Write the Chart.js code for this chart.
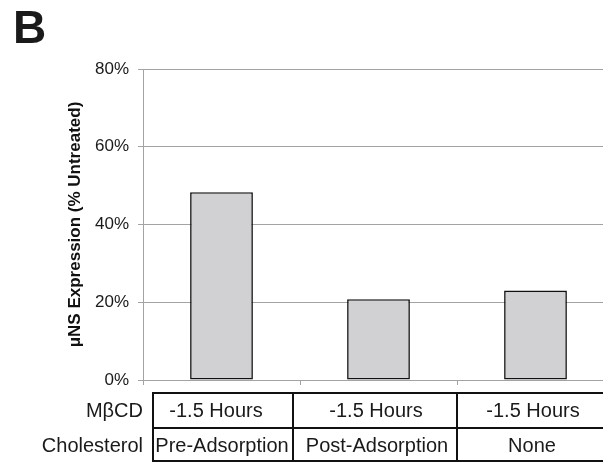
<!DOCTYPE html>
<html>
<head>
<meta charset="utf-8">
<script src="https://cdn.jsdelivr.net/npm/chart.js@4/dist/chart.umd.min.js"></script>
<style>
  html, body { margin: 0; padding: 0; width: 603px; height: 464px; overflow: hidden; background: #fff; }
  body { position: relative; font-family: "Liberation Sans", Arial, sans-serif; color: #111; }
  #wrap { position: absolute; left: 0; top: 0; width: 620px; height: 464px; }
  #panel { position: absolute; left: 13px; top: 1px; font-size: 46px; font-weight: bold; line-height: 52px; color: #1a1a1a; }
  .rowlab { position: absolute; right: 460px; font-size: 20px; line-height: 24px; white-space: nowrap; color: #1a1a1a; }
  .cell { position: absolute; width: 200px; font-size: 20px; line-height: 24px; text-align: center; white-space: nowrap; color: #1a1a1a; }
  .hl { position: absolute; height: 2px; background: #111; }
  .vl { position: absolute; width: 2px; background: #111; }
</style>
</head>
<body>
<div id="wrap"><canvas id="c" width="620" height="464"></canvas></div>
<div id="panel">B</div>
<div class="rowlab" style="top:398px">MβCD</div>
<div class="rowlab" style="top:433px">Cholesterol</div>
<div id="tbl"></div>
<script>
// Treatment groups and measured expression (% of untreated)
const categories = ["Pre-Adsorption", "Post-Adsorption", "None"];
const mbcdRow = ["-1.5 Hours", "-1.5 Hours", "-1.5 Hours"];
const cholesterolRow = ["Pre-Adsorption", "Post-Adsorption", "None"];
const expression = [48.3, 20.8, 23.0];
const yTicks = [0, 20, 40, 60, 80];

// Condition table under the bars: ruled grid plus centred cell text
const tbl = document.getElementById('tbl');
function add(cls, style, text) {
  const d = document.createElement('div');
  d.className = cls;
  Object.assign(d.style, style);
  if (text) d.textContent = text;
  tbl.appendChild(d);
}
[392, 427, 460].forEach(y => add('hl', { left: '152px', top: y + 'px', width: '460px' }));
[152, 292, 456].forEach(x => add('vl', { left: x + 'px', top: '392px', height: '70px' }));
const rowTops = [398, 433];
const centers = [[216, 376, 533], [222, 377, 532]];
[mbcdRow, cholesterolRow].forEach((row, ri) => {
  row.forEach((txt, i) => add('cell', { left: (centers[ri][i] - 100) + 'px', top: rowTops[ri] + 'px' }, txt));
});

const gridGray = '#a3a3a3';
new Chart(document.getElementById('c'), {
  type: 'bar',
  data: {
    labels: categories,
    datasets: [{
      data: expression,
      backgroundColor: '#d1d1d3',
      borderColor: '#111',
      borderWidth: 1.6,
      borderSkipped: false,
      barPercentage: 0.4,
      categoryPercentage: 1.0
    }]
  },
  options: {
    responsive: false,
    animation: false,
    layout: { padding: { top: 69, right: 6, left: 0, bottom: 0 } },
    plugins: { legend: { display: false }, tooltip: { enabled: false } },
    scales: {
      x: {
        offset: true,
        grid: { offset: true, drawOnChartArea: false, drawTicks: true, tickLength: 5, color: gridGray, lineWidth: 1 },
        border: { color: gridGray, width: 1 },
        ticks: { display: false },
        afterFit: s => { s.height = 84; }
      },
      y: {
        min: 0, max: 80,
        afterBuildTicks: s => { s.ticks = yTicks.map(v => ({ value: v })); },
        grid: { color: gridGray, lineWidth: 1, tickLength: 5 },
        border: { color: gridGray, width: 1 },
        ticks: {
          padding: 9,
          color: '#1a1a1a',
          font: { family: 'Liberation Sans', size: 17 },
          callback: v => v + '%'
        },
        title: {
          display: true,
          text: 'μNS Expression (% Untreated)',
          color: '#111',
          font: { family: 'Liberation Sans', size: 17, weight: 'bold' },
          padding: { top: 65, bottom: 0 }
        },
        afterFit: s => { s.width = 143; }
      }
    }
  }
});
</script>
</body>
</html>
